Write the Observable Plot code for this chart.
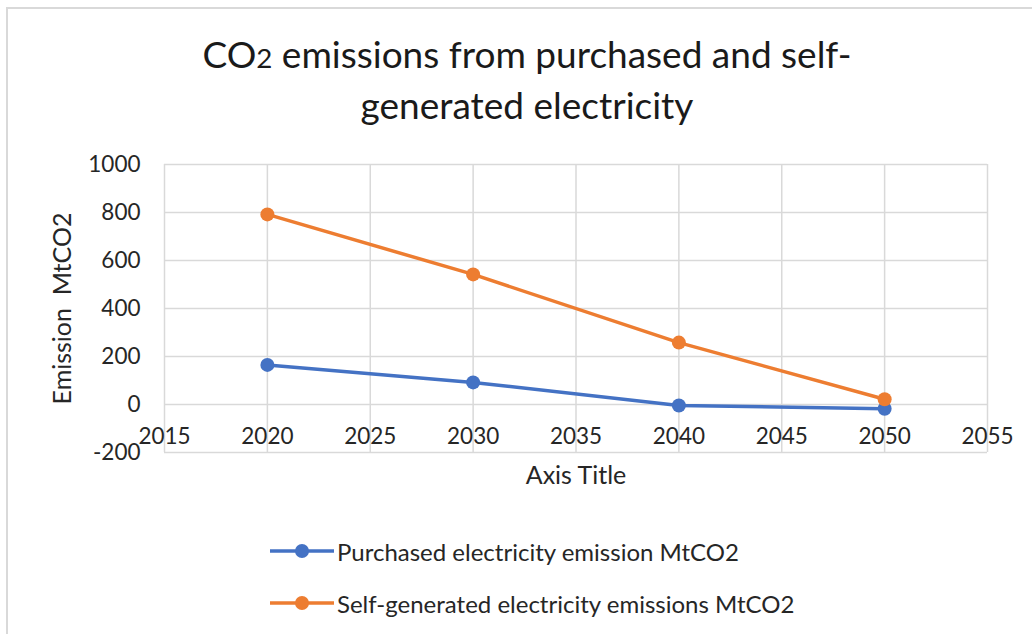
<!DOCTYPE html>
<html><head><meta charset="utf-8">
<script src="https://cdn.jsdelivr.net/npm/d3@7"></script>
<script src="https://cdn.jsdelivr.net/npm/@observablehq/plot@0.6"></script>
<style>
body{margin:0;background:#fff;font-family:Lato,"Open Sans",sans-serif;}
#wrap{position:relative;width:1032px;height:634px;overflow:hidden;background:#fff;}
#border{position:absolute;left:6px;top:7px;width:1040px;height:640px;border-left:2px solid #d9d9d9;border-top:2px solid #d9d9d9;}
#title{position:absolute;left:0;width:1054px;top:30px;text-align:center;font-size:37px;line-height:47px;color:#1a1a1a;}
#title .sub{font-size:0.75em;}
#chart{position:absolute;left:0;top:140px;}
#legend{position:absolute;left:270px;top:525px;font-size:24px;color:#262626;}
.item{display:flex;align-items:center;height:52px;}
.item svg{margin-right:1px;}
</style>
</head><body>
<div id="wrap">
  <div id="border"></div>
  <div id="title">CO<span class="sub">2</span> emissions from purchased and self-<br>generated electricity</div>
  <div id="chart"></div>
  <div id="legend"></div>
</div>
<script>
const years = [2020, 2030, 2040, 2050];
const purchased = [165, 92, -4, -18];
const selfGenerated = [792, 542, 258, 22];
const seriesNames = ["Purchased electricity emission MtCO2", "Self-generated electricity emissions MtCO2"];
const seriesColors = ["#4472C4", "#ED7D31"];
const xTicks = [2015, 2020, 2025, 2030, 2035, 2040, 2045, 2050, 2055];
const yTicks = [-200, 0, 200, 400, 600, 800, 1000];
const xTitle = "Axis Title";
const yTitle = "Emission\u00a0\u00a0MtCO2";

const data = [];
years.forEach((y, i) => data.push({year: y, value: purchased[i], series: seriesNames[0]}));
years.forEach((y, i) => data.push({year: y, value: selfGenerated[i], series: seriesNames[1]}));

const plot = Plot.plot({
  width: 1032,
  height: 360,
  marginLeft: 164,
  marginRight: 45,
  marginTop: 24,
  marginBottom: 48,
  style: {fontFamily: "Lato, 'Open Sans', sans-serif", fontSize: "22.5px", color: "#262626", background: "transparent"},
  x: {domain: [2015, 2055], ticks: xTicks},
  y: {domain: [-200, 1000], ticks: yTicks},
  color: {domain: seriesNames, range: seriesColors},
  marks: [
    Plot.gridX(xTicks, {stroke: "#d9d9d9", strokeOpacity: 1, strokeWidth: 1.5}),
    Plot.gridY(yTicks, {stroke: "#d9d9d9", strokeOpacity: 1, strokeWidth: 1.5}),
    Plot.axisY(yTicks, {tickSize: 0, tickPadding: 24, label: null, tickFormat: d => String(d), fill: "#262626"}),
    Plot.axisX(xTicks, {anchor: "bottom", tickSize: 0, tickPadding: 0, dy: -24, label: null, tickFormat: d => String(d), fill: "#262626"}),
    Plot.text([xTitle], {frameAnchor: "bottom", dy: 31, text: d => d, fontSize: 25, fill: "#262626"}),
    Plot.text([yTitle], {frameAnchor: "left", dx: -102, rotate: -90, textAnchor: "middle", text: d => d, fontSize: 25, fill: "#262626"}),
    Plot.line(data, {x: "year", y: "value", stroke: "series", z: "series", strokeWidth: 3.5}),
    Plot.dot(data, {x: "year", y: "value", fill: "series", r: 7})
  ]
});
document.getElementById("chart").appendChild(plot);

const legend = document.getElementById("legend");
seriesNames.forEach((name, i) => {
  const item = document.createElement("div");
  item.className = "item";
  item.innerHTML = `<svg width="66" height="20"><line x1="0" x2="64" y1="10" y2="10" stroke="${seriesColors[i]}" stroke-width="3.5"/><circle cx="32" cy="10" r="7" fill="${seriesColors[i]}"/></svg><span>${name}</span>`;
  legend.appendChild(item);
});
</script>
</body></html>
